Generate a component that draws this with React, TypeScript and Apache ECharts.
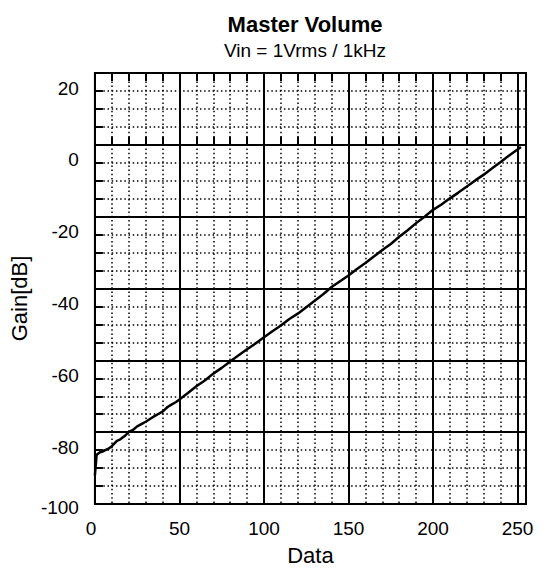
import React, { useEffect, useRef } from 'react';
import * as echarts from 'echarts';

const dataX = [0, 1, 3, 5, 8, 10, 13, 15, 18, 20, 23, 25, 28, 30, 33, 35, 38, 40, 43, 45, 48, 50, 55, 60, 65, 70, 75, 80, 85, 90, 95, 100, 105, 110, 115, 120, 125, 130, 135, 140, 145, 150, 155, 160, 165, 170, 175, 180, 185, 190, 195, 200, 205, 210, 215, 220, 225, 230, 235, 240, 245, 250, 252];
const gainDb = [-92, -86.3, -85.6, -85.3, -84.6, -83.9, -82.4, -82.0, -80.9, -80.0, -79.2, -78.4, -77.6, -77.1, -76.2, -75.6, -74.8, -74.3, -73.0, -72.4, -71.6, -70.9, -69.1, -67.2, -65.6, -63.7, -62.1, -60.3, -58.6, -56.9, -55.3, -53.6, -51.9, -50.3, -48.5, -47.0, -45.2, -43.4, -41.6, -39.6, -38.0, -36.4, -34.6, -32.9, -31.1, -29.3, -27.6, -25.6, -23.8, -21.8, -20.0, -18.1, -16.6, -14.9, -13.3, -11.6, -9.9, -8.3, -6.5, -4.8, -3.0, -1.3, -0.6];

const xRange = [0, 255];
const xStep = 50;
const yRange = [-100, 20];
const yStep = 20;

const titleText = 'Master Volume';
const subtitleText = 'Vin = 1Vrms / 1kHz';
const xName = 'Data';
const yName = 'Gain[dB]';

export default function App() {
  const ref = useRef<HTMLDivElement>(null);
  useEffect(() => {
    const chart = echarts.init(ref.current!, null, { renderer: 'svg' });
    const font = "'Liberation Sans', Arial, Helvetica, sans-serif";
    const dotted = { color: '#000', width: 1.5, type: [1.5, 2.7] as number[] };
    const solid = { color: '#000', width: 2, type: 'solid' as const };
    const minorTick = { show: true, splitNumber: 5, length: 8, lineStyle: { color: '#000', width: 2 } };
    const option = {
      animation: false,
      backgroundColor: '#fff',
      title: {
        text: titleText,
        subtext: subtitleText,
        left: 305,
        top: 13,
        padding: 0,
        textAlign: 'center',
        itemGap: 6,
        textStyle: { fontFamily: font, fontSize: 22, fontWeight: 'bold', color: '#000' },
        subtextStyle: { fontFamily: font, fontSize: 19, color: '#000' },
      },
      grid: {
        left: 93,
        top: 73,
        right: 19,
        bottom: 64,
        show: true,
        borderColor: '#000',
        borderWidth: 2,
        backgroundColor: '#fff',
      },
      xAxis: [
        {
          type: 'value',
          min: xRange[0],
          max: xRange[1],
          interval: xStep,
          position: 'bottom',
          name: xName,
          nameLocation: 'middle',
          nameGap: 40,
          nameTextStyle: { fontFamily: font, fontSize: 22, color: '#000' },
          axisLine: { show: true, lineStyle: { color: '#000', width: 2 } },
          axisTick: { show: false, inside: true },
          minorTick,
          splitLine: { show: true, lineStyle: solid },
          minorSplitLine: { show: true, lineStyle: dotted },
          axisLabel: {
            fontFamily: font,
            fontSize: 19,
            color: '#000',
            margin: 15,
            showMaxLabel: false,
            formatter: (v: number) => (v === 0 ? '{z|0}' : String(v)),
            rich: { z: { fontFamily: font, fontSize: 19, color: '#000', padding: [0, 8, 0, 0] } },
          },
        },
        {
          type: 'value',
          min: xRange[0],
          max: xRange[1],
          interval: xStep,
          position: 'top',
          axisLine: { show: false },
          axisTick: { show: false, inside: true },
          minorTick,
          splitLine: { show: false },
          axisLabel: { show: false },
        },
      ],
      yAxis: {
        type: 'value',
        min: yRange[0],
        max: yRange[1],
        interval: yStep,
        name: yName,
        nameLocation: 'middle',
        nameGap: 60,
        nameTextStyle: { fontFamily: font, fontSize: 22, color: '#000', padding: [0, 20, 0, 0] },
        axisLine: { show: true, lineStyle: { color: '#000', width: 2 } },
        axisTick: { show: false, inside: true },
        minorTick: { ...minorTick, splitNumber: 4 },
        splitLine: { show: true, lineStyle: solid },
        minorSplitLine: { show: true, lineStyle: dotted },
        axisLabel: {
          fontFamily: font,
          fontSize: 19,
          color: '#000',
          margin: 16,
          formatter: (v: number) => (v === -100 ? `{b|${v}}` : `{a|${v}}`),
          rich: {
            a: { fontFamily: font, fontSize: 19, color: '#000', padding: [30, 0, 0, 0] },
            b: { fontFamily: font, fontSize: 19, color: '#000', padding: [6, 0, 0, 0] },
          },
        },
      },
      series: [
        {
          type: 'line',
          xAxisIndex: 0,
          data: dataX.map((x, i) => [x, gainDb[i]]),
          showSymbol: false,
          lineStyle: { color: '#000', width: 2.5 },
          z: 5,
        },
      ],
    };
    chart.setOption(option as any);
    return () => chart.dispose();
  }, []);
  return <div ref={ref} style={{ position: 'fixed', left: 0, top: 0, width: 545, height: 571 }} />;
}
